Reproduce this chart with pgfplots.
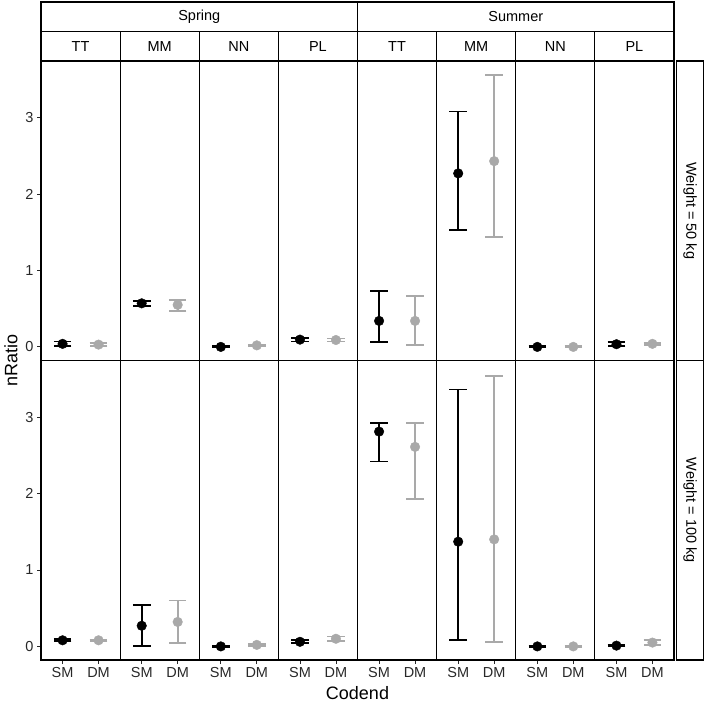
\documentclass[border=0pt]{standalone}
\usepackage{fontspec}
\setmainfont{Liberation Sans}
\usepackage{pgfplots}
\pgfplotsset{compat=1.18}
\definecolor{dmgray}{RGB}{169,169,169}
\definecolor{tickc}{RGB}{40,40,40}
\newcommand\smallf{\fontsize{14.5bp}{17bp}\selectfont}
\newcommand\bigf{\fontsize{18bp}{21bp}\selectfont}
\pgfplotsset{
  panel/.style={
    scale only axis, width=79.125bp, height=299.5bp,
    xmin=0.4, xmax=2.6, ymin=-0.178, ymax=3.74,
    axis line style={black, line width=1.1bp},
    xtick=\empty, ytick=\empty,
    xtick pos=bottom, ytick pos=left,
    tick align=outside, major tick length=4bp,
    tick style={tickc, line width=0.8bp},
    tick label style={font=\smallf, text=tickc},
    /pgf/number format/assume math mode=true,
    clip=false,
  },
  lefty/.style={ytick={0,1,2,3}},
  bottomx/.style={xtick={1,2}, xticklabels={SM,DM}},
  smstyle/.style={only marks, mark=*, black, mark size=4.8bp,
    mark options={line width=0.4bp},
    error bars/.cd, y dir=both, y explicit,
    error bar style={line width=1.8bp, black},
    error mark options={rotate=90, mark size=8.8bp, line width=1.8bp, black}},
  dmstyle/.style={only marks, mark=*, dmgray, mark size=4.8bp,
    mark options={line width=0.4bp, fill=dmgray, draw=dmgray},
    error bars/.cd, y dir=both, y explicit,
    error bar style={line width=1.8bp, dmgray},
    error mark options={rotate=90, mark size=8.8bp, line width=1.8bp, dmgray}},
}
% #1 position, #2 options, #3-#5 SM (y, plus, minus), #6-#8 DM (y, plus, minus)
\newcommand\panel[8]{%
\begin{axis}[panel, at={(#1)}, anchor=north west, #2]
\addplot[smstyle] coordinates {(1,#3) += (0,#4) -= (0,#5)};
\addplot[dmstyle] coordinates {(2,#6) += (0,#7) -= (0,#8)};
\end{axis}}
\begin{document}
\begin{tikzpicture}
\useasboundingbox (0,0) rectangle (706bp,-706bp);
% ---- Weight = 50 kg (top row)
\panel{41bp,-61bp}{lefty}{0.04}{0.03}{0.03}{0.03}{0.02}{0.02}
\panel{120.125bp,-61bp}{}{0.57}{0.03}{0.03}{0.55}{0.06}{0.08}
\panel{199.25bp,-61bp}{}{0.00}{0.008}{0.008}{0.02}{0.01}{0.01}
\panel{278.375bp,-61bp}{}{0.095}{0.025}{0.025}{0.09}{0.02}{0.02}
\panel{357.5bp,-61bp}{}{0.34}{0.39}{0.28}{0.34}{0.33}{0.31}
\panel{436.625bp,-61bp}{}{2.27}{0.81}{0.74}{2.43}{1.13}{0.99}
\panel{515.75bp,-61bp}{}{0.00}{0.008}{0.008}{0.00}{0.008}{0.008}
\panel{594.875bp,-61bp}{}{0.035}{0.025}{0.025}{0.04}{0.015}{0.015}
% ---- Weight = 100 kg (bottom row)
\panel{41bp,-360.5bp}{lefty,bottomx}{0.08}{0.012}{0.012}{0.08}{0.01}{0.01}
\panel{120.125bp,-360.5bp}{bottomx}{0.27}{0.27}{0.26}{0.32}{0.28}{0.28}
\panel{199.25bp,-360.5bp}{bottomx}{0.00}{0.008}{0.008}{0.02}{0.01}{0.01}
\panel{278.375bp,-360.5bp}{bottomx}{0.06}{0.02}{0.02}{0.10}{0.03}{0.03}
\panel{357.5bp,-360.5bp}{bottomx}{2.81}{0.11}{0.39}{2.61}{0.31}{0.68}
\panel{436.625bp,-360.5bp}{bottomx}{1.37}{1.99}{1.29}{1.40}{2.14}{1.34}
\panel{515.75bp,-360.5bp}{bottomx}{0.00}{0.008}{0.008}{0.00}{0.008}{0.008}
\panel{594.875bp,-360.5bp}{bottomx}{0.01}{0.012}{0.012}{0.05}{0.03}{0.03}
% ---- strips
\begin{scope}[line width=1.1bp]
\draw[fill=white] (41bp,-2bp) rectangle (357.5bp,-31.5bp);
\draw[fill=white] (357.5bp,-2bp) rectangle (674bp,-31.5bp);
\node[font=\smallf] at (199.25bp,-16.75bp) {Spring};
\node[font=\smallf] at (515.75bp,-16.75bp) {Summer};
\foreach \i/\lab in {0/TT,1/MM,2/NN,3/PL,4/TT,5/MM,6/NN,7/PL}{
  \draw[fill=white] ({41bp+79.125bp*\i},-31.5bp) rectangle ({41bp+79.125bp*(\i+1)},-61bp);
  \node[font=\smallf] at ({41bp+79.125bp*(\i+0.5)},-46.25bp) {\lab};
}
\draw[fill=white] (676.5bp,-61bp) rectangle (703.5bp,-360.5bp);
\draw[fill=white] (676.5bp,-360.5bp) rectangle (703.5bp,-660bp);
\node[font=\smallf, rotate=-90] at (690bp,-210.75bp) {Weight = 50 kg};
\node[font=\smallf, rotate=-90] at (690bp,-510.25bp) {Weight = 100 kg};
\end{scope}
% ---- axis titles
\node[font=\bigf, rotate=90] at (11bp,-360bp) {nRatio};
\node[font=\bigf] at (357.5bp,-693bp) {Codend};
\end{tikzpicture}
\end{document}
